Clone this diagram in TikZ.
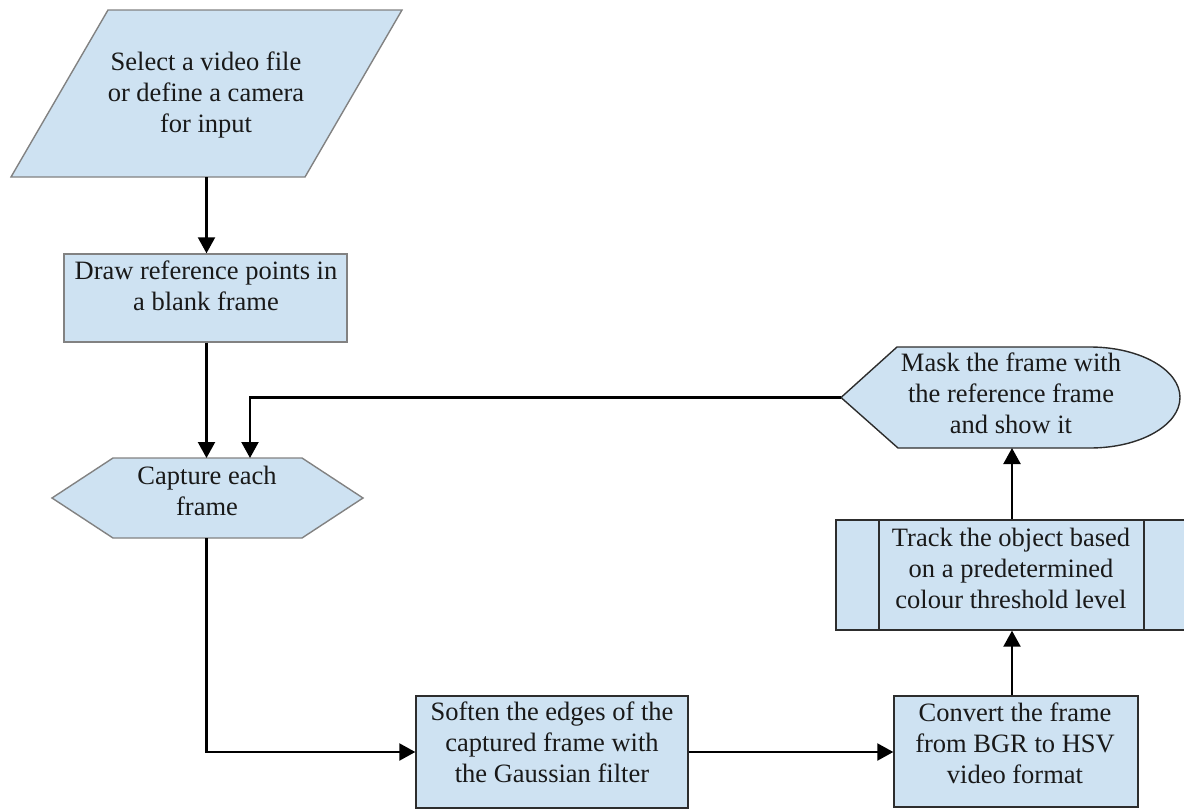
\documentclass[tikz,border=0pt]{standalone}
\usepackage{fontspec}
\setmainfont{Liberation Serif}
\newfontfamily\capfont{Liberation Serif}
\usetikzlibrary{arrows.meta}

\definecolor{boxfill}{RGB}{206,226,242}
\definecolor{lightedge}{RGB}{130,130,130}
\definecolor{darkedge}{RGB}{45,45,45}
\definecolor{ink}{RGB}{25,25,25}

\tikzset{
  shapebox/.style={fill=boxfill, draw=darkedge, line width=1.4pt},
  softbox/.style={shapebox, draw=lightedge},
  anchorbox/.style={draw=none, fill=none, inner sep=0pt, outer sep=0pt},
  caption/.style={align=center, text=ink, inner sep=0pt,
    font=\capfont\fontsize{26.5}{31}\selectfont},
  flow/.style={line width=2.2pt, draw=black,
    -{Triangle[length=16pt,width=17pt]}},
}

\begin{document}
\begin{tikzpicture}[x=1pt,y=-1pt]
\useasboundingbox (0,0) rectangle (1184,811);

% input / output parallelogram
\path[softbox] (108,10) -- (402,10) -- (305,177) -- (11,177) -- cycle;
\node[anchorbox, minimum width=391pt, minimum height=167pt] (inp) at (206.5,93.5) {};
\node[caption] (inp-t) at (206,95) {Select a video file\\or define a camera\\for input};

% reference points box
\node[softbox, minimum width=283pt, minimum height=88pt, inner sep=0pt] (refpts) at (205.5,298) {};
\node[caption] (refpts-t) at (206,286) {Draw reference points in\\a blank frame};

% preparation hexagon
\path[softbox] (52,498) -- (113,458) -- (302,458) -- (363,498) -- (302,538) -- (113,538) -- cycle;
\node[anchorbox, minimum width=311pt, minimum height=80pt] (capture) at (207.5,498) {};
\node[caption] (capture-t) at (207,491) {Capture each\\frame};

% display shape
\path[shapebox] (841,397.5) -- (897,347) -- (1090,347)
  arc[start angle=-90, end angle=90, x radius=90, y radius=50.5]
  -- (898,448) -- cycle;
\node[anchorbox, minimum width=339pt, minimum height=101pt] (mask) at (1010.5,397.5) {};
\node[caption] (mask-t) at (1011,393) {Mask the frame with\\the reference frame\\and show it};

% predefined process
\node[shapebox, minimum width=352pt, minimum height=110pt, inner sep=0pt] (track) at (1012,575) {};
\draw[darkedge, line width=1.4pt] (879,520) -- (879,630) (1144,520) -- (1144,630);
\node[caption] (track-t) at (1011,568) {Track the object based\\on a predetermined\\colour threshold level};

% processing boxes
\node[shapebox, minimum width=272pt, minimum height=112pt, inner sep=0pt] (soften) at (552,752) {};
\node[caption] (soften-t) at (552,742) {Soften the edges of the\\captured frame with\\the Gaussian filter};

\node[shapebox, minimum width=244pt, minimum height=111pt, inner sep=0pt] (convert) at (1016,751.5) {};
\node[caption] (convert-t) at (1015,743) {Convert the frame\\from BGR to HSV\\video format};

% connectors
\coordinate (loop) at (250,397.5);
\draw[flow] (inp.south) -- (inp.south |- refpts.north);
\draw[flow] (refpts.south -| inp.south) -- (capture.north -| inp.south);
\draw[flow] (mask.west) -- (loop) -- (capture.north -| loop);
\draw[flow] (capture.south -| inp.south) |- (soften.west);
\draw[flow] (soften.east) -- (convert.west |- soften.east);
\draw[flow] (track.south |- convert.north) -- (track.south);
\draw[flow] (track.north) -- (track.north |- mask.south);
\end{tikzpicture}
\end{document}
